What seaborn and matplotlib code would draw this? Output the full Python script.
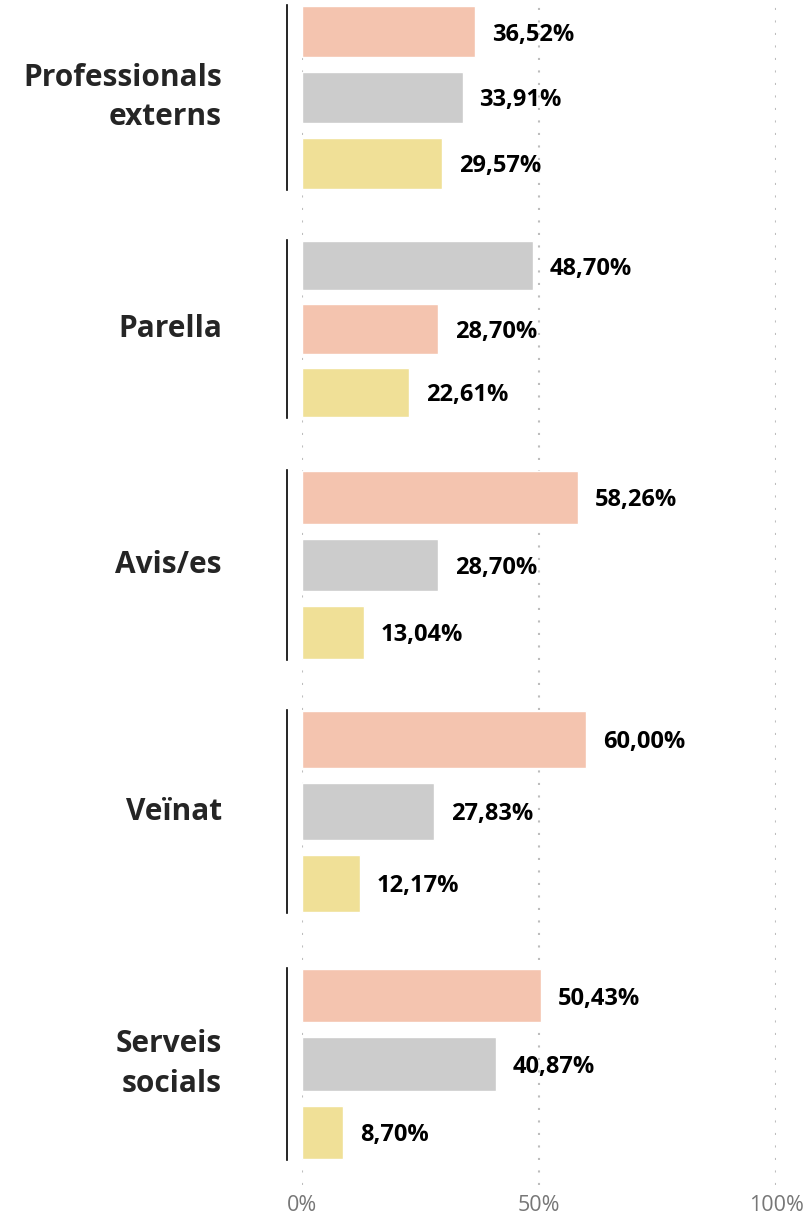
import matplotlib.pyplot as plt
import seaborn as sns
import pandas as pd

# values (percent)
categories = ["Professionals\nexterns", "Parella", "Avis/es", "Veïnat", "Serveis\nsocials"]
series = ["Sèrie A", "Sèrie B", "Sèrie C"]
serie_a = [36.52, 28.70, 58.26, 60.00, 50.43]
serie_b = [33.91, 48.70, 28.70, 27.83, 40.87]
serie_c = [29.57, 22.61, 13.04, 12.17, 8.70]
ticks = [0, 50, 100]

palette = {"Sèrie A": "#F4C4AF", "Sèrie B": "#CCCCCC", "Sèrie C": "#F0E097"}

rows = []
for i, cat in enumerate(categories):
    for s, vals in zip(series, [serie_a, serie_b, serie_c]):
        rows.append({"categoria": cat, "serie": s, "valor": vals[i]})
df = pd.DataFrame(rows)

sns.set_theme(style="white")
plt.rcParams['font.family'] = ['Open Sans', 'DejaVu Sans']

W, H = 809, 1219
fig = plt.figure(figsize=(W / 100, H / 100), dpi=100)

# pixel extents of each group block (top, bottom)
blocks = [(5, 190), (240, 418), (470, 660), (710, 913), (968, 1160)]
x0, x1 = 302, 776

# background axis with the dotted grid and the x tick labels
bg = fig.add_axes([x0 / W, (H - 1185) / H, (x1 - x0) / W, 1185 / H])
bg.set_xlim(0, 100)
bg.set_ylim(0, 1)
bg.set_xticks(ticks)
bg.set_xticklabels([f"{t}%" for t in ticks], color="#777777", fontsize=15.5)
bg.set_yticks([])
bg.tick_params(axis="x", length=0, pad=7)
for t in ticks:
    bg.axvline(t, color="#BDBDBD", lw=1.5, linestyle=(0, (1, 5)), zorder=0)
for sp in bg.spines.values():
    sp.set_visible(False)

fmt = lambda v: f"{v:.2f}%".replace(".", ",")

for cat, (top, bot) in zip(categories, blocks):
    sub = df[df["categoria"] == cat].sort_values("valor", ascending=False)
    ax = fig.add_axes([x0 / W, (H - bot) / H, (x1 - x0) / W, (bot - top) / H])
    ax.patch.set_alpha(0)
    sns.barplot(data=sub, x="valor", y="serie", hue="serie", palette=palette,
                order=list(sub["serie"]), orient="h", dodge=False, width=0.78,
                saturation=1, legend=False, ax=ax)
    ax.set_xlim(0, 100)
    ax.set_ylim(2.41, -0.41)
    for c in ax.containers:
        for t in ax.bar_label(c, fmt=fmt, padding=12, fontsize=17,
                              fontweight="bold", color="black"):
            t.xyann = (12, -2)
    ax.set_xticks([])
    ax.set_yticks([])
    ax.set_xlabel("")
    ax.set_ylabel("")
    for side in ["top", "right", "bottom"]:
        ax.spines[side].set_visible(False)
    ax.spines["left"].set_position(("outward", 10.8))
    ax.spines["left"].set_color("black")
    ax.spines["left"].set_linewidth(1.2)
    ax.text(-0.169, 0.5, cat, transform=ax.transAxes, ha="right", va="center",
            multialignment="right", fontsize=21.5, fontweight="bold", color="#252525",
            linespacing=1.4)

fig.savefig("out.png", dpi=100)
